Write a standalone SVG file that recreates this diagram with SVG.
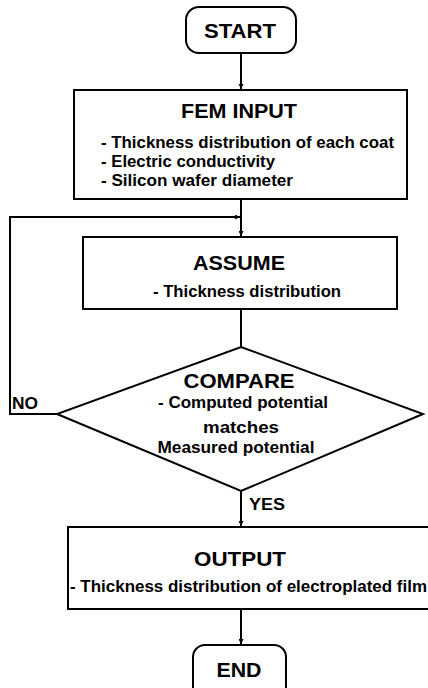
<svg xmlns="http://www.w3.org/2000/svg" width="428" height="688" viewBox="0 0 428 688">
<defs>
<style>
.box{fill:#fff;stroke:#000;stroke-width:2}
.ln{fill:none;stroke:#000;stroke-width:2}
.t{font-family:"Liberation Sans",Arial,sans-serif;fill:#000;font-size:21px;font-weight:bold}
.b{font-family:"Liberation Sans",Arial,sans-serif;fill:#000;font-size:16px;font-weight:bold}
.m{text-anchor:middle}
</style>
<marker id="ah" viewBox="0 0 10 10" refX="10" refY="5" markerWidth="5" markerHeight="5" orient="auto" markerUnits="userSpaceOnUse">
<path d="M0,0 L10,5 L0,10 z" fill="#000"/>
</marker>
</defs>
<rect width="428" height="688" fill="#fff"/>
<g id="connectors">
<line class="ln" x1="241" y1="53" x2="241" y2="89" marker-end="url(#ah)"/>
<line class="ln" x1="241" y1="199" x2="241" y2="236" marker-end="url(#ah)"/>
<polyline class="ln" points="57,414 10,414 10,217 240,217" marker-end="url(#ah)"/>
<line class="ln" x1="241" y1="309" x2="241" y2="346"/>
<line class="ln" x1="241" y1="491" x2="241" y2="526" marker-end="url(#ah)"/>
<line class="ln" x1="241" y1="609" x2="241" y2="644" marker-end="url(#ah)"/>
<text class="b" x="12" y="409" textLength="26" lengthAdjust="spacingAndGlyphs">NO</text>
<text class="b" x="249" y="510" textLength="36" lengthAdjust="spacingAndGlyphs">YES</text>
</g>
<g id="start">
<rect class="box" x="186" y="7" width="110" height="46" rx="13"/>
<text class="t m" x="240" y="38" textLength="72" lengthAdjust="spacingAndGlyphs">START</text>
</g>
<g id="fem-input">
<rect class="box" x="74" y="90" width="333" height="109"/>
<text class="t m" x="239" y="118" textLength="116" lengthAdjust="spacingAndGlyphs">FEM INPUT</text>
<text class="b" x="101" y="148" textLength="293" lengthAdjust="spacingAndGlyphs">- Thickness distribution of each coat</text>
<text class="b" x="101" y="167" textLength="174" lengthAdjust="spacingAndGlyphs">- Electric conductivity</text>
<text class="b" x="101" y="186" textLength="192" lengthAdjust="spacingAndGlyphs">- Silicon wafer diameter</text>
</g>
<g id="assume">
<rect class="box" x="83" y="237" width="314" height="72"/>
<text class="t m" x="239" y="270" textLength="92" lengthAdjust="spacingAndGlyphs">ASSUME</text>
<text class="b m" x="247" y="297" textLength="188" lengthAdjust="spacingAndGlyphs">- Thickness distribution</text>
</g>
<g id="compare">
<polygon class="box" points="241,347 423,414 241,491 57,414"/>
<text class="t m" x="239" y="388" textLength="111" lengthAdjust="spacingAndGlyphs">COMPARE</text>
<text class="b m" x="243" y="408" textLength="170" lengthAdjust="spacingAndGlyphs">- Computed potential</text>
<text class="b m" x="241" y="433" textLength="76" lengthAdjust="spacingAndGlyphs">matches</text>
<text class="b m" x="236" y="453" textLength="157" lengthAdjust="spacingAndGlyphs">Measured potential</text>
</g>
<g id="output">
<rect class="box" x="68" y="527" width="366" height="82"/>
<text class="t m" x="240" y="566" textLength="92" lengthAdjust="spacingAndGlyphs">OUTPUT</text>
<text class="b" x="70" y="592" textLength="357" lengthAdjust="spacingAndGlyphs">- Thickness distribution of electroplated film</text>
</g>
<g id="end">
<rect class="box" x="193" y="645" width="93" height="55" rx="12"/>
<text class="t m" x="239" y="677" textLength="45" lengthAdjust="spacingAndGlyphs">END</text>
</g>
</svg>
